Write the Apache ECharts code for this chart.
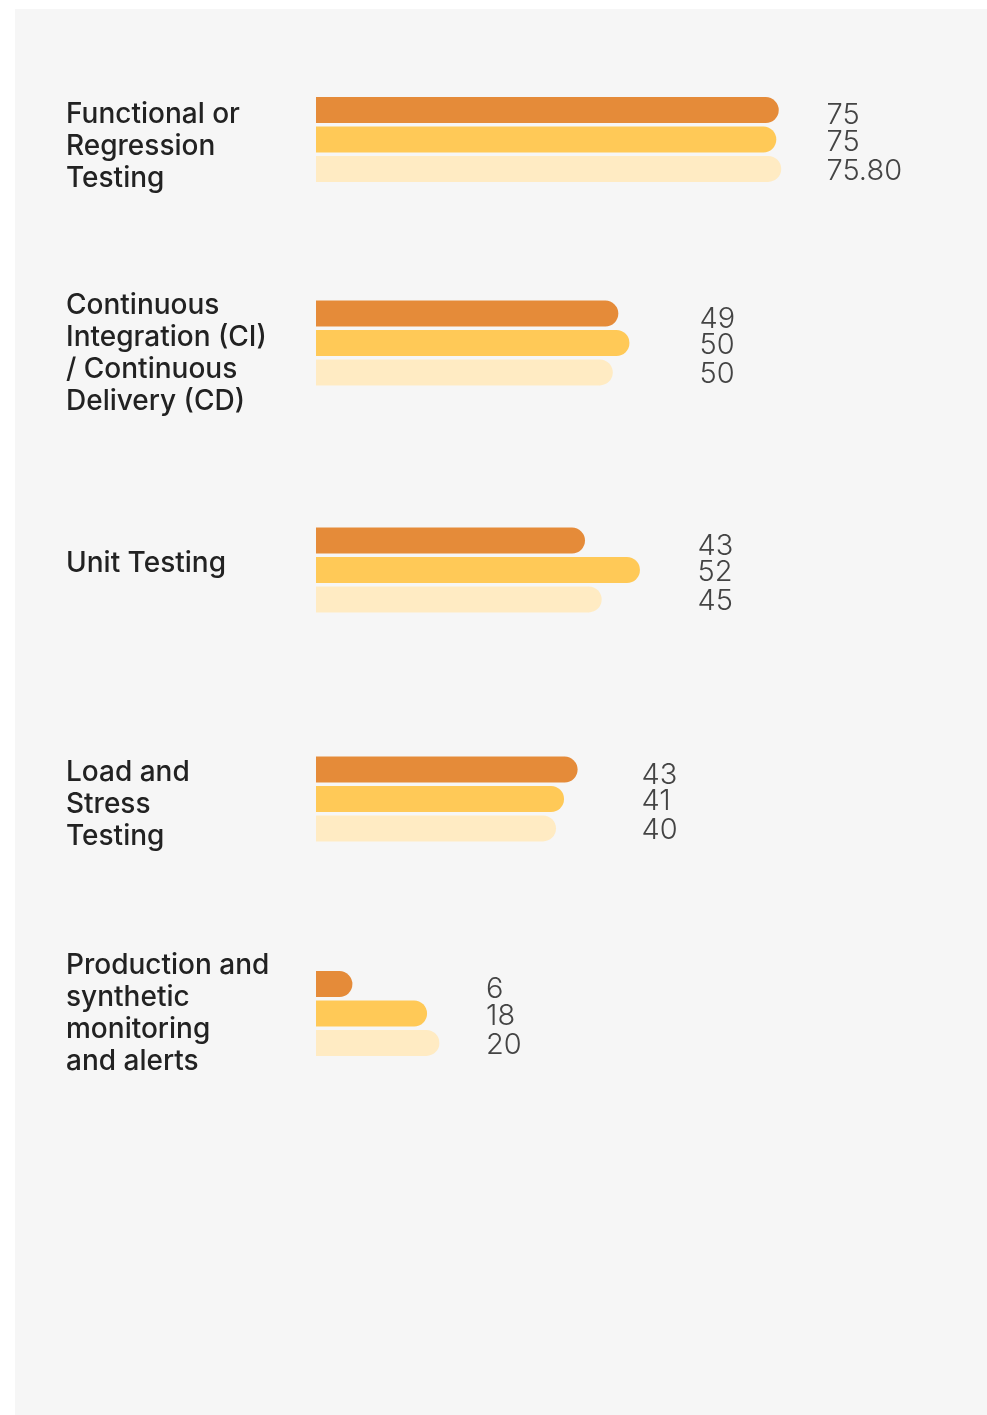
<!DOCTYPE html>
<html>
<head>
<meta charset="utf-8">
<script src="https://cdn.jsdelivr.net/npm/echarts@6/dist/echarts.min.js"></script>
<style>
  html, body { margin: 0; padding: 0; background: #ffffff; }
  #chart { width: 987px; height: 1415px; }
</style>
</head>
<body>
<div id="chart"></div>
<script>
// categories (line breaks as in the original layout)
const categories = [
  'Functional or\nRegression\nTesting',
  'Continuous\nIntegration (CI)\n/ Continuous\nDelivery (CD)',
  'Unit Testing',
  'Load and\nStress\nTesting',
  'Production and\nsynthetic\nmonitoring\nand alerts'
]

// bar lengths
const valuesA = [75.0, 49.0, 43.6, 42.4, 5.9]
const valuesB = [74.6, 50.8, 52.5, 40.2, 18.0]
const valuesC = [75.4, 48.1, 46.3, 38.9, 20.0]

// printed value labels
const labelsA = ['75', '49', '43', '43', '6']
const labelsB = ['75', '50', '52', '41', '18']
const labelsC = ['75.80', '50', '45', '40', '20']

// layout (pixels)
const barLeft = 316
const rowCenter = [139.5, 343, 570, 799, 1013.5]
const labelX = [826.5, 699.5, 697.5, 641.5, 486]
const nameShift = [7, 10.5, -6.5, 5.5, 0]

const colors = ['#E58B39', '#FFC957', '#FFEBC3']
const valueSets = [valuesA, valuesB, valuesC]
const labelSets = [labelsA, labelsB, labelsC]
const labelDy = [5.5, 2.5, 2]

const chart = echarts.init(document.getElementById('chart'))

const grid = []
const xAxis = []
const yAxis = []
const series = []
const n = categories.length

categories.forEach((name, r) => {
  // bar grid
  grid.push({ left: barLeft, width: 617, top: rowCenter[r] - 50, height: 100 })
  xAxis.push({ gridIndex: r, type: 'value', min: 0, max: 100, show: false })
  yAxis.push({
    gridIndex: r,
    type: 'category',
    inverse: true,
    data: [name],
    axisLine: { show: false },
    axisTick: { show: false },
    splitLine: { show: false },
    axisLabel: { show: false }
  })
  valueSets.forEach((vals, s) => {
    series.push({
      type: 'bar',
      xAxisIndex: r,
      yAxisIndex: r,
      data: [vals[r]],
      barWidth: 26,
      barGap: '13%',
      itemStyle: { color: colors[s], borderRadius: [0, 13, 13, 0] },
      label: {
        show: true,
        position: [labelX[r] - barLeft, '50%'],
        offset: [0, labelDy[s]],
        align: 'left',
        verticalAlign: 'middle',
        formatter: () => labelSets[s][r],
        fontFamily: 'Inter',
        fontWeight: 300,
        fontSize: 29,
        color: '#444444'
      },
      silent: true
    })
  })
})

// name grids, nudged vertically like the original text blocks
categories.forEach((name, r) => {
  const c = rowCenter[r] + nameShift[r]
  grid.push({ left: barLeft, width: 617, top: c - 50, height: 100 })
  xAxis.push({ gridIndex: n + r, type: 'value', min: 0, max: 100, show: false })
  yAxis.push({
    gridIndex: n + r,
    type: 'category',
    data: [name],
    axisLine: { show: false },
    axisTick: { show: false },
    splitLine: { show: false },
    axisLabel: {
      margin: 250,
      align: 'left',
      fontFamily: 'Inter',
      fontWeight: 500,
      fontSize: 28,
      lineHeight: 32,
      color: '#222222'
    }
  })
})

chart.setOption({
  animation: false,
  backgroundColor: '#ffffff',
  graphic: [{
    type: 'rect',
    z: -10,
    silent: true,
    shape: { x: 15, y: 9, width: 987 - 15, height: 1415 - 9 },
    style: { fill: '#F6F6F6' }
  }],
  grid: grid,
  xAxis: xAxis,
  yAxis: yAxis,
  series: series
})
</script>
</body>
</html>
